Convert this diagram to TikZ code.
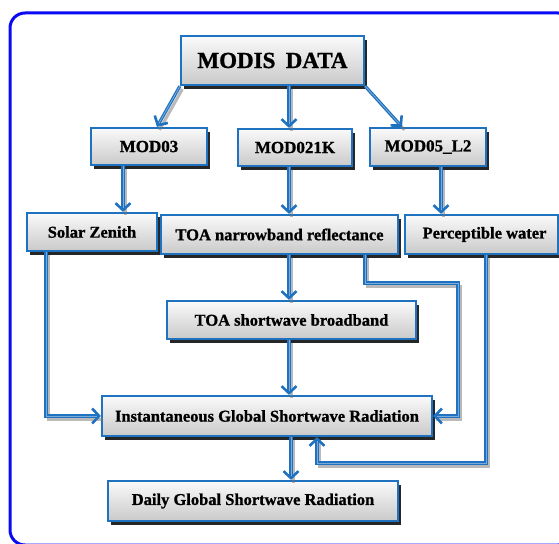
\documentclass[tikz,border=0pt]{standalone}
\usepackage{fontspec}
\setmainfont{Liberation Serif}
\newfontfamily\lserif{Liberation Serif}[BoldFeatures={FakeBold=1}]
\usetikzlibrary{arrows.meta,shadows,calc}
\definecolor{lineblue}{RGB}{31,114,191}
\definecolor{frameblue}{RGB}{10,10,245}
\newcommand\connector[1]{%
  \begin{scope}[transform canvas={shift={(2.5pt,-3pt)}}]\draw[lshadow] #1;\end{scope}
  \draw[arr] #1;}
\begin{document}
\begin{tikzpicture}[x=1pt,y=-1pt,
  box/.style={draw=lineblue, line width=2.2pt, rectangle, inner sep=0pt,
    top color=gray!4, bottom color=gray!42,
    font=\lserif\bfseries\fontsize{16.5}{18}\selectfont,
    drop shadow={shadow xshift=2.5pt, shadow yshift=-4pt, fill=black, opacity=0.85}},
  arr/.style={draw=lineblue, line width=3.2pt,
    -{Straight Barb[length=7pt,width=15pt,line width=2.6pt]},
    postaction={draw=lineblue!60, line width=0.8pt, -, shorten >=4pt}},
  lshadow/.style={draw=black!55, opacity=0.5, line width=3pt},
  frame/.style={draw=frameblue, line width=3pt, rounded corners=15pt}
]
\useasboundingbox (0,0) rectangle (559,543);
\clip (0,0) rectangle (559,543);
\draw[frame] (10,13) rectangle (573,545);

% nodes
\node[box, minimum width=183pt, minimum height=49pt, font=\lserif\bfseries\fontsize{23}{26}\selectfont] (modis) at (272.5,60.5) {MODIS\hspace{0.45em}DATA};
\node[box, minimum width=116pt, minimum height=37pt, font=\lserif\bfseries\fontsize{17}{19}\selectfont] (mod03) at (149,146.5) {MOD03};
\node[box, minimum width=114pt, minimum height=37pt, font=\lserif\bfseries\fontsize{17}{19}\selectfont] (mod021k) at (295,147.5) {MOD021K};
\node[box, minimum width=116pt, minimum height=38pt, font=\lserif\bfseries\fontsize{17}{19}\selectfont] (mod05) at (428,147) {MOD05\_L2};
\node[box, minimum width=130pt, minimum height=38pt] (solar) at (92,232) {Solar Zenith};
\node[box, minimum width=237pt, minimum height=39pt] (toanb) at (279.5,234.5) {TOA narrowband reflectance};
\node[box, minimum width=153pt, minimum height=39pt] (pw) at (481.5,234.5) {\hspace{6pt}Perceptible water};
\node[box, minimum width=249pt, minimum height=38pt] (toasw) at (291.5,320) {TOA shortwave broadband};
\node[box, minimum width=330pt, minimum height=40pt] (inst) at (267,416) {Instantaneous Global Shortwave Radiation};
\node[box, minimum width=290pt, minimum height=40pt] (daily) at (253,501) {Daily Global Shortwave Radiation};

% column / junction coordinates
\coordinate (cA) at (289,0);
\coordinate (cB) at (123,0);
\coordinate (cC) at (441,0);
\coordinate (cD) at (291,0);
\coordinate (cE) at (46,0);
\coordinate (cF) at (365,0);
\coordinate (cH) at (486,0);
\coordinate (j1) at (458,283);
\coordinate (j2) at (317,463);

% connectors
\connector{(modis.south west) -- ([xshift=8pt]mod03.north)}
\connector{(modis.south -| cA) -- (mod021k.north -| cA)}
\connector{(modis.south east) -- ([xshift=-26pt]mod05.north)}
\connector{(mod03.south -| cB) -- (solar.north -| cB)}
\connector{(mod021k.south -| cA) -- (toanb.north -| cA)}
\connector{(mod05.south -| cC) -- (pw.north -| cC)}
\connector{(toanb.south -| cA) -- (toasw.north -| cA)}
\connector{(toasw.south -| cA) -- (inst.north -| cA)}
\connector{(inst.south -| cD) -- (daily.north -| cD)}
\connector{(solar.south -| cE) |- (inst.west)}
\connector{(toanb.south -| cF) |- (j1) |- (inst.east)}
\connector{(pw.south -| cH) |- (j2) -- (j2 |- inst.south)}
\end{tikzpicture}
\end{document}
